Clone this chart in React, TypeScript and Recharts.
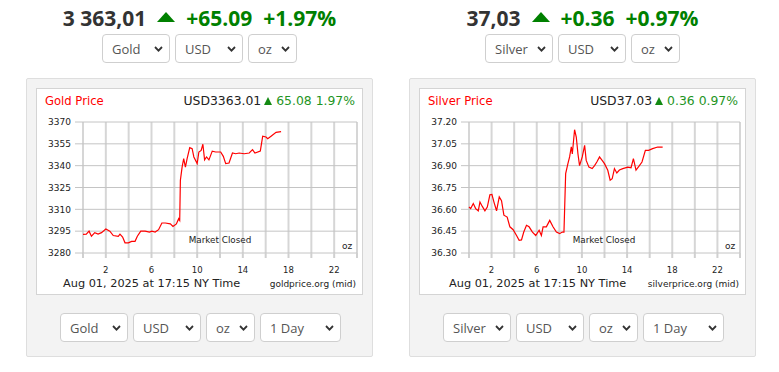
import { LineChart, Line, XAxis, YAxis, CartesianGrid } from "recharts";

// hours of the NY trading day on the x axis
const hourTicks = [0, 2, 4, 6, 8, 10, 12, 14, 16, 18, 20, 22, 24];
const hourLabels = [2, 6, 10, 14, 18, 22];

const goldHours = [
  0, 0.29, 0.53, 0.74, 1.03, 1.32, 1.62, 2.0, 2.35, 2.65, 3.09, 3.24, 3.47, 3.68, 3.97, 4.26, 4.56,
  4.76, 5.06, 5.44, 5.82, 6.03, 6.32, 6.62, 6.91, 7.21, 7.65, 7.88, 8.18, 8.38, 8.47, 8.53, 8.68,
  8.82, 8.97, 9.12, 9.35, 9.56, 9.71, 10.0, 10.15, 10.35, 10.5, 10.65, 10.82, 11.03, 11.32, 11.62,
  12.06, 12.29, 12.5, 12.79, 13.09, 13.38, 13.68, 14.12, 14.56, 14.85, 15.06, 15.53, 15.74, 16.03,
  16.18, 16.47, 16.91, 17.35,
];
const goldPrices = [
  3292.8, 3293, 3295, 3291.5, 3294, 3293, 3294, 3296.5, 3295, 3292, 3291.5, 3293, 3291, 3287, 3287,
  3288, 3288, 3291.5, 3295, 3295, 3294.4, 3295, 3294.4, 3296, 3300.6, 3300.6, 3300, 3298.3, 3300,
  3303.6, 3302.4, 3330, 3339, 3344.8, 3339, 3344.8, 3352.4, 3351.7, 3346, 3341.4, 3349.4, 3350.5,
  3354.7, 3344, 3346, 3344, 3350, 3349.4, 3349.4, 3346.4, 3341.4, 3341.8, 3348.7, 3348.2, 3348.7,
  3348.2, 3348.7, 3351, 3348.7, 3350, 3360.2, 3359.7, 3358.5, 3360.2, 3362.9, 3363.4,
];
const goldTicks = [3280, 3295, 3310, 3325, 3340, 3355, 3370];

const silverHours = [
  0, 0.15, 0.38, 0.59, 0.82, 0.97, 1.18, 1.41, 1.62, 1.85, 2.03, 2.21, 2.44, 2.68, 2.88, 3.09, 3.38,
  3.62, 3.91, 4.21, 4.44, 4.65, 4.85, 5.09, 5.32, 5.62, 5.91, 6.21, 6.41, 6.56, 6.85, 7.15, 7.44,
  7.74, 8.03, 8.26, 8.41, 8.56, 8.76, 8.91, 9.06, 9.15, 9.35, 9.5, 9.65, 9.79, 10.03, 10.24, 10.38,
  10.62, 10.91, 11.12, 11.32, 11.56, 11.79, 12.0, 12.29, 12.5, 12.68, 12.88, 13.09, 13.32, 13.62,
  14.06, 14.35, 14.56, 14.79, 15.09, 15.32, 15.62, 15.91, 16.26, 16.71, 17.15,
];
const silverPrices = [
  36.616, 36.605, 36.64, 36.605, 36.59, 36.65, 36.62, 36.59, 36.616, 36.7, 36.703, 36.65, 36.59,
  36.685, 36.66, 36.56, 36.547, 36.48, 36.46, 36.42, 36.387, 36.39, 36.444, 36.49, 36.48, 36.444,
  36.42, 36.456, 36.42, 36.48, 36.48, 36.524, 36.48, 36.444, 36.433, 36.444, 36.444, 36.845, 36.914,
  36.96, 37.03, 36.98, 37.147, 37.097, 36.98, 36.9, 36.96, 37.04, 36.936, 36.89, 36.88, 36.9, 36.925,
  36.96, 36.936, 36.914, 36.868, 36.8, 36.81, 36.88, 36.85, 36.87, 36.88, 36.89, 36.886, 36.948,
  36.87, 36.9, 36.925, 37.005, 37.005, 37.017, 37.028, 37.028,
];
const silverTicks = [36.3, 36.45, 36.6, 36.75, 36.9, 37.05, 37.2];

const goldHeader = ["3 363,01", "+65.09", "+1.97%"];
const goldBoxHeader = ["USD3363.01", "65.08 1.97%"];
const silverHeader = ["37,03", "+0.36", "+0.97%"];
const silverBoxHeader = ["USD37.03", "0.36 0.97%"];

const timestamp = "Aug 01, 2025 at 17:15 NY Time";

const CHART_FONT = "'DejaVu Sans', Verdana, sans-serif";
const UI_FONT = "'Open Sans', sans-serif";

function Select({ label, width }: { label: string; width: number }) {
  return (
    <div
      style={{
        width,
        height: 29,
        boxSizing: "border-box",
        border: "1px solid #cfcfcf",
        borderRadius: 4,
        background: "#fff",
        display: "flex",
        alignItems: "center",
        justifyContent: "space-between",
        padding: "0 6px 0 9px",
        fontFamily: UI_FONT,
        fontSize: 13,
        color: "#555",
      }}
    >
      <span>{label}</span>
      <svg width="9" height="6">
        <polyline points="1,1 4.5,4.6 8,1" fill="none" stroke="#333" strokeWidth="1.8" />
      </svg>
    </div>
  );
}

function UpArrow({ w, h, color }: { w: number; h: number; color: string }) {
  return (
    <span
      style={{
        display: "inline-block",
        width: 0,
        height: 0,
        borderLeft: `${w / 2}px solid transparent`,
        borderRight: `${w / 2}px solid transparent`,
        borderBottom: `${h}px solid ${color}`,
      }}
    />
  );
}

type CardProps = {
  left: number;
  metal: string;
  header: string[];
  boxHeader: string[];
  hours: number[];
  prices: number[];
  ticks: number[];
  decimals: number;
  yWidth: number;
  site: string;
  dateLeft: number;
  marketLeft: number;
};

function PriceCard(p: CardProps) {
  const data = p.hours.map((h, i) => ({ hour: h, price: p.prices[i] }));
  return (
    <div style={{ position: "absolute", left: p.left, top: 0, width: 347, height: 372 }}>
      {/* big header */}
      <div
        style={{
          position: "absolute",
          top: 4,
          left: 0,
          width: 347,
          display: "flex",
          justifyContent: "center",
          alignItems: "center",
          fontFamily: UI_FONT,
          fontWeight: 700,
          fontSize: 21,
          color: "#333",
        }}
      >
        <span>{p.header[0]}</span>
        <span style={{ margin: "0 11px 0 11px", display: "flex", marginTop: -3 }}>
          <UpArrow w={19} h={10} color="#008000" />
        </span>
        <span style={{ color: "#008000" }}>{p.header[1]}</span>
        <span style={{ color: "#008000", marginLeft: 11 }}>{p.header[2]}</span>
      </div>
      <div
        style={{ position: "absolute", top: 34, left: 0, width: 347, display: "flex", justifyContent: "center", gap: 5 }}
      >
        <Select label={p.metal} width={68} />
        <Select label="USD" width={68} />
        <Select label="oz" width={49} />
      </div>

      {/* grey panel */}
      <div
        style={{
          position: "absolute",
          top: 78,
          left: 0,
          width: 347,
          height: 279,
          boxSizing: "border-box",
          background: "#f3f3f3",
          border: "1px solid #dedede",
          borderRadius: 2,
        }}
      />
      <div
        style={{
          position: "absolute",
          top: 88,
          left: 10,
          width: 327,
          height: 207,
          boxSizing: "border-box",
          background: "#fff",
          border: "1px solid #d4d4d4",
          fontFamily: CHART_FONT,
        }}
      >
        <div style={{ position: "relative", width: 325, height: 205 }}>
          <LineChart width={325} height={205} data={data} margin={{ top: 33, right: 5, bottom: 11, left: 0 }}>
            <CartesianGrid horizontal={false} stroke="#d6d6d6" strokeWidth={2} />
            <CartesianGrid vertical={false} stroke="#c4c4c4" strokeWidth={1} />
            <XAxis
              dataKey="hour"
              type="number"
              domain={[0, 24]}
              ticks={hourTicks}
              interval={0}
              height={30}
              axisLine={false}
              tickSize={5}
              tickMargin={9}
              tickLine={{ stroke: "#d0d0d0", strokeWidth: 2 }}
              tickFormatter={(v: number) => (hourLabels.includes(v) ? String(v) : "")}
              tick={{ fontSize: 8.5, fill: "#222", fontFamily: CHART_FONT }}
            />
            <YAxis
              type="number"
              domain={[p.ticks[0], p.ticks[p.ticks.length - 1]]}
              ticks={p.ticks}
              interval={0}
              width={p.yWidth}
              axisLine={false}
              tickSize={8}
              tickMargin={4}
              tickLine={{ stroke: "#c4c4c4" }}
              tickFormatter={(v: number) => v.toFixed(p.decimals)}
              tick={{ fontSize: 9, fill: "#222", fontFamily: CHART_FONT }}
            />
            <Line
              type="linear"
              dataKey="price"
              stroke="#ff0000"
              strokeWidth={1.2}
              dot={false}
              isAnimationActive={false}
            />
          </LineChart>

          <div style={{ position: "absolute", left: 8, top: 5, fontSize: 11.6, lineHeight: "14px", color: "#f00" }}>
            {p.metal} Price
          </div>
          <div
            style={{
              position: "absolute",
              right: 7,
              top: 5,
              fontSize: 12.4,
              lineHeight: "14px",
              display: "flex",
              alignItems: "center",
              color: "#222",
            }}
          >
            <span>{p.boxHeader[0]}</span>
            <span style={{ margin: "0 4px 0 3px", display: "flex" }}>
              <UpArrow w={9} h={8} color="#138a13" />
            </span>
            <span style={{ color: "#1f951f" }}>{p.boxHeader[1]}</span>
          </div>
          <div
            style={{
              position: "absolute",
              left: p.marketLeft - 40,
              width: 80,
              textAlign: "center",
              top: 146,
              fontSize: 8.8,
              lineHeight: "10px",
              color: "#222",
            }}
          >
            Market Closed
          </div>
          <div style={{ position: "absolute", left: 305, top: 152, fontSize: 9, lineHeight: "10px", color: "#222" }}>
            oz
          </div>
          <div style={{ position: "absolute", left: p.dateLeft, top: 188, fontSize: 11.3, lineHeight: "13px", color: "#222" }}>
            {timestamp}
          </div>
          <div style={{ position: "absolute", right: 6, top: 190, fontSize: 9, lineHeight: "10px", color: "#222" }}>
            {p.site}
          </div>
        </div>
      </div>

      <div style={{ position: "absolute", top: 313, left: 34, display: "flex", gap: 5 }}>
        <Select label={p.metal} width={68} />
        <Select label="USD" width={68} />
        <Select label="oz" width={49} />
        <Select label="1 Day" width={81} />
      </div>
    </div>
  );
}

export default function App() {
  return (
    <div style={{ position: "absolute", left: 0, top: 0, width: 779, height: 372, background: "#fff" }}>
      <PriceCard
        left={26}
        metal="Gold"
        header={goldHeader}
        boxHeader={goldBoxHeader}
        hours={goldHours}
        prices={goldPrices}
        ticks={goldTicks}
        decimals={0}
        yWidth={46}
        site="goldprice.org (mid)"
        dateLeft={26}
        marketLeft={183}
      />
      <PriceCard
        left={409}
        metal="Silver"
        header={silverHeader}
        boxHeader={silverBoxHeader}
        hours={silverHours}
        prices={silverPrices}
        ticks={silverTicks}
        decimals={2}
        yWidth={49}
        site="silverprice.org (mid)"
        dateLeft={29}
        marketLeft={184}
      />
    </div>
  );
}
